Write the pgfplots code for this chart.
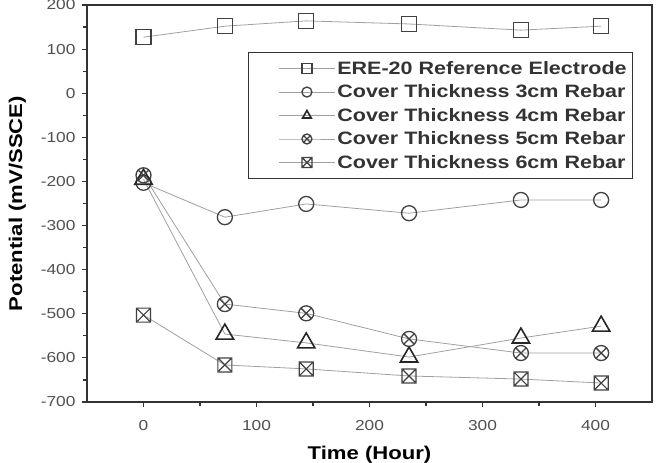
\documentclass[border=0pt]{standalone}
\usepackage{pgfplots}
\pgfplotsset{compat=1.18}
\usepackage{fontspec}
\setmainfont{Liberation Sans}[FakeStretch=1.2]
\usetikzlibrary{plotmarks}
\definecolor{linegray}{HTML}{A0A0A0}
\definecolor{markgray}{HTML}{404040}
\definecolor{axgray}{HTML}{333333}
\definecolor{tickgray}{HTML}{505050}
\pgfdeclareplotmark{boxtimes}{%
  \pgfpathrectangle{\pgfqpoint{-\pgfplotmarksize}{-\pgfplotmarksize}}{\pgfqpoint{2\pgfplotmarksize}{2\pgfplotmarksize}}%
  \pgfpathmoveto{\pgfqpoint{-0.85\pgfplotmarksize}{-0.85\pgfplotmarksize}}%
  \pgfpathlineto{\pgfqpoint{0.85\pgfplotmarksize}{0.85\pgfplotmarksize}}%
  \pgfpathmoveto{\pgfqpoint{-0.85\pgfplotmarksize}{0.85\pgfplotmarksize}}%
  \pgfpathlineto{\pgfqpoint{0.85\pgfplotmarksize}{-0.85\pgfplotmarksize}}%
  \pgfusepathqstroke}
\begin{document}
\begin{tikzpicture}
\begin{axis}[
  name=ax,
  scale only axis,
  width=565bp, height=397bp,
  xmin=-50, xmax=450, ymin=-700, ymax=200,
  xtick={0,100,200,300,400},
  minor xtick={50,150,250,350},
  ytick={-700,-600,-500,-400,-300,-200,-100,0,100,200},
  minor ytick={-650,-550,-450,-350,-250,-150,-50,50,150},
  tick align=outside,
  tick pos=left,
  major tick length=5bp,
  minor tick length=4bp,
  every tick/.style={axgray, line width=1.2bp},
  axis line style={axgray, line width=1.6bp},
  /pgf/number format/assume math mode=true,
  ticklabel style={font=\fontsize{14.5}{17}\selectfont, text=tickgray},
  yticklabel style={xshift=-3bp},
  xticklabel style={yshift=-10bp},
  xlabel={\textbf{Time (Hour)}},
  ylabel={\textbf{Potential (mV/SSCE)}},
  label style={font=\fontsize{18.5}{22}\selectfont},
  xlabel style={yshift=-9bp},
  ylabel style={yshift=8bp},
  legend style={at={(0.285,0.882)}, anchor=north west, draw=axgray, line width=1bp,
    font=\bfseries\fontsize{18}{21}\selectfont, text=black!80,
    row sep=5bp, inner xsep=4bp, inner ysep=7bp},
  legend cell align=left,
  legend image code/.code={\path (0bp,0bp); \draw[mark repeat=2,mark phase=2,mark size=5bp] plot coordinates {(26bp,0bp) (54bp,0bp) (82bp,0bp)};},
  every axis plot/.append style={line width=0.8bp},
  clip=false,
]
\addplot[linegray, mark=square, mark size=7.5bp, mark options={draw=markgray, line width=1.3bp, fill=white}]
  coordinates {(0,127) (72,152) (144,164) (235,157) (334,143) (405,152)};
\addlegendentry{ERE-20 Reference Electrode}
\addplot[linegray, mark=o, mark size=7.5bp, mark options={draw=markgray, line width=1.3bp, fill=white}]
  coordinates {(0,-203) (72,-281) (144,-251) (235,-272) (334,-242) (405,-242)};
\addlegendentry{Cover Thickness 3cm Rebar}
\addplot[linegray, mark=triangle, mark size=10bp, mark options={draw=black!85, line width=1.6bp, fill=white}]
  coordinates {(0,-195) (72,-546) (144,-566) (235,-598) (334,-555) (405,-528)};
\addlegendentry{Cover Thickness 4cm Rebar}
\addplot[linegray, mark=otimes, mark size=7.5bp, mark options={draw=markgray, line width=1.3bp, fill=white}]
  coordinates {(0,-186) (72,-478) (144,-499) (235,-557) (334,-589) (405,-589)};
\addlegendentry{Cover Thickness 5cm Rebar}
\addplot[linegray, mark=boxtimes, mark size=7bp, mark options={draw=markgray, line width=1.2bp, fill=white}]
  coordinates {(0,-503) (72,-616) (144,-625) (235,-641) (334,-648) (405,-657)};
\addlegendentry{Cover Thickness 6cm Rebar}
\end{axis}
\pgfresetboundingbox
\path[use as bounding box] ([xshift=-87bp,yshift=-61bp]ax.south west) rectangle ([xshift=7bp,yshift=5bp]ax.north east);
\end{tikzpicture}
\end{document}
